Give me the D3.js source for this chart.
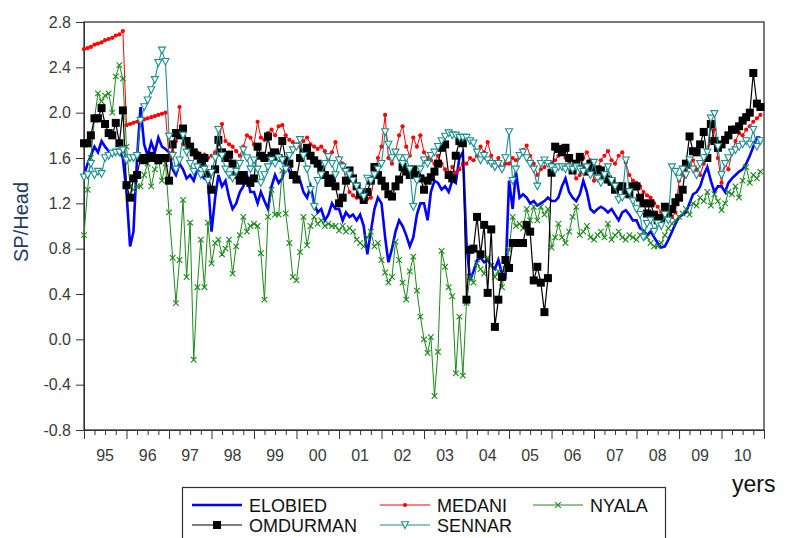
<!DOCTYPE html>
<html>
<head>
<meta charset="utf-8">
<script src="https://cdn.jsdelivr.net/npm/d3@7"></script>
<style>
  body { margin: 0; background: #fff; }
  text { font-family: "Liberation Sans", Arial, sans-serif; }
</style>
</head>
<body>
<div id="chart"></div>
<script>
// monthly values, Jan 1995 .. Dec 2010
var elobied = [
  1.45,1.55,1.62,1.70,1.65,1.75,1.70,1.66,1.65,1.64,1.66,1.60,
  1.30,0.82,0.95,1.60,2.05,1.72,1.62,1.74,1.65,1.78,1.70,1.68,
  1.65,1.50,1.45,1.55,1.50,1.42,1.45,1.40,1.50,1.45,1.42,1.40,
  0.95,1.25,1.45,1.35,1.40,1.25,1.15,1.20,1.30,1.35,1.45,1.30,
  1.30,1.20,1.30,1.22,1.15,1.35,1.45,1.38,1.42,1.55,1.48,1.45,
  1.45,1.40,1.30,1.25,1.35,1.20,1.12,1.15,1.05,1.10,1.20,1.15,
  1.15,1.05,1.12,1.08,1.10,1.05,1.10,1.00,0.75,0.95,1.15,1.25,
  1.20,0.90,0.68,0.80,0.95,1.05,1.00,0.92,0.82,0.90,1.10,1.20,
  1.20,1.05,1.30,1.40,1.38,1.32,1.35,1.30,1.40,1.38,1.60,1.65,
  0.85,0.52,0.60,0.70,0.72,0.68,0.70,0.65,0.62,0.70,0.58,0.55,
  1.40,1.15,1.48,1.25,1.28,1.25,1.20,1.22,1.18,1.20,1.22,1.25,
  1.22,1.22,1.25,1.35,1.42,1.30,1.25,1.22,1.28,1.40,1.30,1.15,
  1.12,1.15,1.17,1.15,1.12,1.15,1.10,1.05,1.12,1.14,1.10,1.05,
  1.05,0.98,0.96,0.92,0.95,0.90,0.85,0.81,0.82,0.88,0.95,1.02,
  1.08,1.10,1.12,1.20,1.28,1.30,1.35,1.45,1.52,1.40,1.30,1.35,
  1.35,1.30,1.38,1.42,1.45,1.48,1.50,1.55,1.62,1.70,1.78,1.78
];
var medani = [
  2.56,2.57,2.58,2.60,2.61,2.62,2.64,2.65,2.66,2.68,2.69,2.72,
  1.89,1.90,1.91,1.92,1.93,1.94,1.95,1.96,1.97,1.98,1.99,2.00,
  1.60,1.65,1.75,2.05,1.72,1.70,1.68,1.66,1.65,1.62,1.63,1.60,
  1.62,1.65,1.72,1.90,1.75,1.72,1.70,1.66,1.62,1.70,1.80,1.78,
  1.72,1.92,1.78,1.76,1.82,1.85,1.80,1.88,1.89,1.80,1.76,1.74,
  1.72,1.70,1.75,1.78,1.72,1.70,1.68,1.70,1.66,1.60,1.65,1.74,
  1.60,1.55,1.40,1.30,1.27,1.25,1.25,1.26,1.24,1.25,1.45,1.60,
  1.70,1.98,1.60,1.55,1.65,1.80,1.88,1.70,1.62,1.78,1.70,1.80,
  1.65,1.60,1.58,1.55,1.62,1.55,1.50,1.45,1.52,1.47,1.50,1.55,
  1.55,1.60,1.58,1.62,1.70,1.65,1.74,1.62,1.52,1.60,1.50,1.55,
  1.55,1.60,1.58,1.62,1.67,1.71,1.62,1.55,1.45,1.50,1.52,1.55,
  1.55,1.58,1.62,1.65,1.60,1.55,1.50,1.42,1.45,1.60,1.65,1.58,
  1.40,1.50,1.58,1.62,1.66,1.58,1.55,1.62,1.65,1.56,1.45,1.40,
  1.38,1.35,1.30,1.27,1.25,1.20,1.17,1.12,1.08,1.05,1.08,1.12,
  1.40,1.45,1.49,1.52,1.58,1.50,1.45,1.55,1.65,1.75,1.85,1.60,
  1.38,1.55,1.50,1.65,1.75,1.82,1.80,1.85,1.88,1.92,1.95,1.98
];
var nyala = [
  0.92,1.32,1.60,1.95,2.17,2.10,2.15,2.17,2.00,2.32,2.42,2.30,
  1.70,1.35,1.32,1.35,1.35,1.45,1.55,1.35,1.50,1.60,1.40,1.55,
  1.12,0.72,0.32,0.70,1.23,0.55,1.03,-0.18,0.46,0.88,0.46,1.03,
  0.67,0.85,0.88,0.75,0.80,0.88,0.58,0.82,0.92,1.08,0.95,1.00,
  1.02,1.00,0.76,0.35,1.08,1.32,1.10,1.10,1.49,1.11,0.85,0.55,
  0.52,0.77,1.08,0.83,1.00,1.08,1.02,1.05,1.00,1.02,1.00,1.00,
  0.96,1.00,0.95,0.98,0.95,0.88,0.85,0.82,0.90,0.95,0.82,0.85,
  0.70,0.59,0.50,0.55,0.86,0.70,0.50,0.35,0.60,0.73,0.43,0.20,
  0.00,-0.12,0.02,-0.50,-0.11,0.78,0.64,0.46,0.38,-0.30,0.20,-0.32,
  0.32,0.55,0.50,0.67,0.62,0.58,0.72,0.65,0.55,0.60,0.46,0.62,
  0.79,1.08,1.00,1.02,0.98,1.15,1.05,1.17,1.05,1.17,1.10,1.15,
  0.81,0.90,1.02,0.90,0.85,0.95,1.08,1.17,0.92,0.95,1.00,0.90,
  0.88,0.92,0.95,0.90,1.02,0.88,0.92,0.95,0.90,0.88,0.92,0.90,
  0.88,0.92,0.95,0.90,0.85,0.82,0.82,0.85,0.92,0.98,1.02,1.05,
  1.08,1.11,1.15,1.10,1.20,1.18,1.25,1.22,1.30,1.18,1.28,1.22,
  1.14,1.20,1.30,1.28,1.35,1.25,1.40,1.52,1.38,1.45,1.42,1.48
];
var omdurman = [
  1.73,1.73,1.80,1.95,1.95,2.04,1.90,1.82,1.80,1.91,1.73,2.02,
  1.36,1.25,1.42,1.45,1.60,1.58,1.60,1.62,1.60,1.58,1.60,1.60,
  1.40,1.72,1.82,1.80,1.86,1.75,1.70,1.65,1.62,1.55,1.60,1.45,
  1.32,1.50,1.76,1.65,1.60,1.63,1.55,1.45,1.40,1.45,1.40,1.38,
  1.42,1.70,1.62,1.60,1.79,1.62,1.65,1.60,1.75,1.58,1.55,1.45,
  1.41,1.60,1.65,1.69,1.62,1.58,1.55,1.50,1.45,1.38,1.42,1.35,
  1.20,1.25,1.40,1.49,1.42,1.35,1.28,1.23,1.30,1.40,1.52,1.45,
  1.40,1.35,1.28,1.26,1.35,1.41,1.52,1.48,1.45,1.50,1.45,1.42,
  1.32,1.40,1.43,1.48,1.55,1.69,1.72,1.45,1.42,1.62,1.75,1.73,
  0.35,0.79,0.80,1.08,0.75,1.01,0.41,0.97,0.11,0.35,0.55,0.70,
  0.63,0.85,0.85,0.85,0.85,1.01,0.95,0.52,0.64,0.50,0.24,0.54,
  1.47,1.70,1.68,1.65,1.69,1.60,1.49,1.55,1.61,1.50,1.48,1.55,
  1.49,1.50,1.49,1.45,1.41,1.39,1.32,1.35,1.35,1.30,1.28,1.35,
  1.35,1.25,1.20,1.11,1.20,1.10,1.05,1.07,1.17,1.10,1.15,1.21,
  1.25,1.32,1.55,1.79,1.66,1.65,1.72,1.83,1.60,1.90,1.75,1.69,
  1.72,1.76,1.80,1.85,1.85,1.88,1.93,1.96,2.00,2.35,2.08,2.05
];
var sennar = [
  1.43,1.45,1.55,1.45,1.48,1.46,1.60,1.62,1.64,1.65,1.65,1.67,
  1.58,1.60,1.60,1.62,1.93,2.05,2.11,2.20,2.29,2.44,2.55,2.45,
  1.79,1.62,1.50,1.58,1.80,1.65,1.55,1.48,1.52,1.45,1.50,1.40,
  1.47,1.60,1.85,1.62,1.50,1.45,1.42,1.48,1.55,1.67,1.60,1.50,
  1.58,1.50,1.38,1.45,1.52,1.58,1.55,1.60,1.58,1.50,1.62,1.67,
  1.70,1.76,1.62,1.50,1.32,1.17,1.40,1.45,1.55,1.61,1.55,1.45,
  1.58,1.52,1.48,1.45,1.40,1.35,1.30,1.26,1.42,1.40,1.45,1.50,
  1.55,1.83,1.72,1.60,1.65,1.60,1.55,1.60,1.50,1.17,1.40,1.50,
  1.58,1.55,1.62,1.65,1.70,1.75,1.79,1.82,1.80,1.80,1.78,1.78,
  1.78,1.75,1.73,1.65,1.58,1.62,1.58,1.55,1.52,1.55,1.50,1.60,
  1.83,1.40,1.50,1.62,1.65,1.60,1.55,1.50,1.35,1.55,1.58,1.55,
  1.52,1.49,1.52,1.52,1.50,1.52,1.50,1.52,1.50,1.48,1.52,1.45,
  1.56,1.42,1.38,1.45,1.52,1.40,1.35,1.23,1.25,1.58,1.30,1.22,
  1.15,1.10,0.90,1.02,1.05,0.95,1.02,1.00,1.10,1.05,1.52,1.48,
  1.42,1.50,1.45,1.58,1.50,1.45,1.55,1.60,1.65,1.95,1.99,1.70,
  1.45,1.55,1.60,1.65,1.67,1.70,1.72,1.75,1.72,1.85,1.70,1.75
];
var yearLabels = ["95","96","97","98","99","00","01","02","03","04","05","06","07","08","09","10"];
var yTicks = [2.8, 2.4, 2.0, 1.6, 1.2, 0.8, 0.4, 0.0, -0.4, -0.8];

window.onload = () => {
  var width = 786, height = 538;
  var plotLeft = 84, plotRight = 764, plotTop = 22, plotBottom = 430;

  var svg = d3.select("#chart").append("svg")
    .attr("width", width)
    .attr("height", height);
  svg.append("rect").attr("width", width).attr("height", height).attr("fill", "#fff");

  var x = d3.scaleTime()
    .domain([new Date(1995, 0, 1), new Date(2011, 0, 1)])
    .range([plotLeft, plotRight]);
  var y = d3.scaleLinear().domain([-0.8, 2.8]).range([plotBottom, plotTop]);

  var dates = d3.range(192).map(i => new Date(1995, i, 1));

  var series = [
    { name: "ELOBIED",  values: elobied,  color: "#0000ff", width: 2.6, marker: "none" },
    { name: "MEDANI",   values: medani,   color: "#ff0000", width: 1,   marker: "circle" },
    { name: "NYALA",    values: nyala,    color: "#1a8a1a", width: 1,   marker: "cross" },
    { name: "OMDURMAN", values: omdurman, color: "#000000", width: 1.2, marker: "square" },
    { name: "SENNAR",   values: sennar,   color: "#1a8f8f", width: 1.1, marker: "triangle" }
  ];

  // frame
  svg.append("rect")
    .attr("x", plotLeft).attr("y", plotTop)
    .attr("width", plotRight - plotLeft).attr("height", plotBottom - plotTop)
    .attr("fill", "none").attr("stroke", "#333").attr("stroke-width", 1.3);

  // y axis (plain hyphen for negatives, as in the original)
  var fmt = d3.format(".1f");
  var yAxis = d3.axisLeft(y).tickValues(yTicks).tickSize(8).tickPadding(5)
    .tickFormat(d => fmt(d).replace("\u2212", "-"));
  var gy = svg.append("g").attr("transform", "translate(" + plotLeft + ",0)").call(yAxis);
  gy.selectAll("text").attr("font-size", 16).attr("fill", "#3a3a3a");

  // x axis: year and quarter ticks
  var majors = d3.range(1995, 2012).map(yr => new Date(yr, 0, 1));
  var minors = d3.range(0, 192, 3).filter(m => m % 12 != 0).map(m => new Date(1995, m, 1));
  svg.append("g").attr("transform", "translate(0," + plotBottom + ")")
    .call(d3.axisBottom(x).tickValues(minors).tickSize(5).tickFormat(""));
  svg.append("g").attr("transform", "translate(0," + plotBottom + ")")
    .call(d3.axisBottom(x).tickValues(majors).tickSize(9).tickFormat(""));
  svg.selectAll(".domain").attr("stroke", "#333");
  svg.selectAll(".tick line").attr("stroke", "#333");

  svg.append("g").selectAll("text")
    .data(yearLabels)
    .enter().append("text")
    .attr("x", (d, i) => x(new Date(1995 + i, 6, 1)))
    .attr("y", 461)
    .attr("text-anchor", "middle")
    .attr("font-size", 16)
    .attr("fill", "#3a3a3a")
    .text(d => d);

  // titles
  svg.append("text")
    .attr("transform", "translate(28,222) rotate(-90)")
    .attr("text-anchor", "middle")
    .attr("font-size", 20)
    .attr("fill", "#1f3a5f")
    .text("SP/Head");
  svg.append("text")
    .attr("x", 732).attr("y", 492)
    .attr("font-size", 23)
    .attr("fill", "#111")
    .text("yers");

  // lines
  var line = d3.line()
    .x((d, i) => x(dates[i]))
    .y(d => y(d));

  function drawMarker(g, type, color, cx, cy) {
    if (type === "circle") {
      g.append("circle").attr("cx", cx).attr("cy", cy).attr("r", 2.1).attr("fill", color);
    } else if (type === "square") {
      g.append("rect").attr("x", cx - 4).attr("y", cy - 4).attr("width", 8).attr("height", 8).attr("fill", color);
    } else if (type === "triangle") {
      g.append("path")
        .attr("d", "M" + (cx - 3.5) + "," + (cy - 3.2) + "L" + (cx + 3.5) + "," + (cy - 3.2) + "L" + cx + "," + (cy + 3.5) + "Z")
        .attr("fill", "#fff").attr("stroke", color).attr("stroke-width", 1.1);
    } else if (type === "cross") {
      g.append("path")
        .attr("d", "M" + (cx - 2.8) + "," + (cy - 2.8) + "L" + (cx + 2.8) + "," + (cy + 2.8) +
                   "M" + (cx - 2.8) + "," + (cy + 2.8) + "L" + (cx + 2.8) + "," + (cy - 2.8))
        .attr("stroke", color).attr("stroke-width", 1.1);
    }
  }

  var plot = svg.append("g");
  series.forEach(s => {
    var g = plot.append("g");
    g.append("path")
      .attr("d", line(s.values))
      .attr("fill", "none")
      .attr("stroke", s.color)
      .attr("stroke-width", s.width);
    s.values.forEach((v, i) => drawMarker(g, s.marker, s.color, x(dates[i]), y(v)));
  });

  // legend
  var lg = svg.append("g");
  lg.append("rect")
    .attr("x", 182.5).attr("y", 487.5).attr("width", 483).attr("height", 60)
    .attr("fill", "#fff").attr("stroke", "#333").attr("stroke-width", 1.2);
  var legendPos = [[192, 505], [380, 505], [533, 505], [192, 525], [380, 525]];
  var legendOrder = ["ELOBIED", "MEDANI", "NYALA", "OMDURMAN", "SENNAR"];
  legendOrder.forEach((name, i) => {
    var s = series.find(d => d.name === name);
    var p = legendPos[i];
    lg.append("line")
      .attr("x1", p[0]).attr("x2", p[0] + 50).attr("y1", p[1]).attr("y2", p[1])
      .attr("stroke", s.color).attr("stroke-width", s.width);
    drawMarker(lg, s.marker, s.color, p[0] + 25, p[1]);
    lg.append("text")
      .attr("x", p[0] + 57).attr("y", p[1] + 6.5)
      .attr("font-size", 18)
      .attr("fill", "#111")
      .text(name);
  });
}
</script>
</body>
</html>
